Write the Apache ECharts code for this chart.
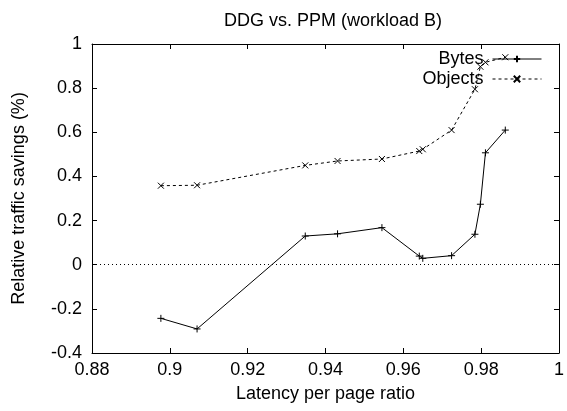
<!DOCTYPE html>
<html>
<head>
<meta charset="utf-8">
<script src="https://cdn.jsdelivr.net/npm/echarts@6/dist/echarts.min.js"></script>
<style>html,body{margin:0;padding:0;background:#fff}#c{width:567px;height:411px}</style>
</head>
<body>
<div id="c"></div>
<script>
const latency = [0.8977, 0.9070, 0.9348, 0.9431, 0.9545, 0.9641, 0.9650, 0.9724, 0.9784, 0.9798, 0.9811, 0.9862];
const bytesSavings = [-0.243, -0.291, 0.130, 0.140, 0.168, 0.039, 0.029, 0.041, 0.138, 0.274, 0.507, 0.610];
const objectsSavings = [0.358, 0.360, 0.450, 0.470, 0.479, 0.515, 0.523, 0.610, 0.795, 0.897, 0.917, 0.940];
const seriesNames = ['Bytes', 'Objects'];
const titleText = 'DDG vs. PPM (workload B)';
const xName = 'Latency per page ratio';
const yName = 'Relative traffic savings (%)';

const FONT = 'Liberation Sans';
const FS = 18;
const plus = 'path://M0,5L10,5M5,0L5,10';
const cross = 'path://M0,0L10,10M10,0L0,10';
const fmt = v => String(+(+v).toFixed(2));

const chart = echarts.init(document.getElementById('c'), null, {renderer: 'canvas'});
const axisCommon = {
  axisLine: {show: true, onZero: false, lineStyle: {color: '#000', width: 1}},
  axisTick: {show: true, inside: true, length: 5, lineStyle: {color: '#000', width: 1}},
  splitLine: {show: false}
};
chart.setOption({
  animation: false,
  backgroundColor: '#fff',
  textStyle: {fontFamily: FONT, color: '#000'},
  title: {text: titleText, left: 328, textAlign: 'center', top: 7,
    textStyle: {fontFamily: FONT, fontSize: FS, fontWeight: 'normal', color: '#000'}},
  grid: {left: 92, right: 3, top: 44, bottom: 58, containLabel: false},
  legend: {
    orient: 'vertical', right: 20, top: 45, align: 'right', itemGap: 2,
    itemWidth: 49, itemHeight: 8,
    lineStyle: {width: 1},
    textStyle: {fontFamily: FONT, fontSize: FS, color: '#000', padding: [0, 4, 0, 0]},
    data: seriesNames
  },
  xAxis: [
    Object.assign({type: 'value', min: 0.88, max: 1, interval: 0.02, position: 'bottom',
      name: xName, nameLocation: 'middle', nameGap: 32,
      nameTextStyle: {fontFamily: FONT, fontSize: FS, color: '#000'},
      axisLabel: {fontFamily: FONT, fontSize: FS, color: '#000', margin: 8, formatter: fmt, showMaxLabel: true}}, axisCommon),
    Object.assign({type: 'value', min: 0.88, max: 1, interval: 0.02, position: 'top',
      axisLabel: {show: false}}, axisCommon)
  ],
  yAxis: [
    Object.assign({type: 'value', min: -0.4, max: 1, interval: 0.2, position: 'left',
      name: yName, nameLocation: 'middle', nameGap: 64, nameRotate: 90,
      nameTextStyle: {fontFamily: FONT, fontSize: FS, color: '#000'},
      axisLabel: {fontFamily: FONT, fontSize: FS, color: '#000', margin: 10, formatter: fmt}}, axisCommon),
    Object.assign({type: 'value', min: -0.4, max: 1, interval: 0.2, position: 'right',
      axisLabel: {show: false}}, axisCommon)
  ],
  series: [
    {
      name: seriesNames[0], type: 'line',
      data: latency.map((x, i) => [x, bytesSavings[i]]),
      symbol: plus, symbolSize: 7,
      itemStyle: {color: 'none', borderColor: '#000', borderWidth: 1},
      lineStyle: {color: '#000', width: 1, type: 'solid'},
      markLine: {
        silent: true, symbol: 'none', label: {show: false},
        lineStyle: {color: '#000', width: 1, type: [1, 3]},
        data: [{yAxis: 0}]
      }
    },
    {
      name: seriesNames[1], type: 'line',
      data: latency.map((x, i) => [x, objectsSavings[i]]),
      symbol: cross, symbolSize: 6,
      itemStyle: {color: 'none', borderColor: '#000', borderWidth: 1},
      lineStyle: {color: '#000', width: 1, type: [3, 3]}
    }
  ]
});
</script>
</body>
</html>
